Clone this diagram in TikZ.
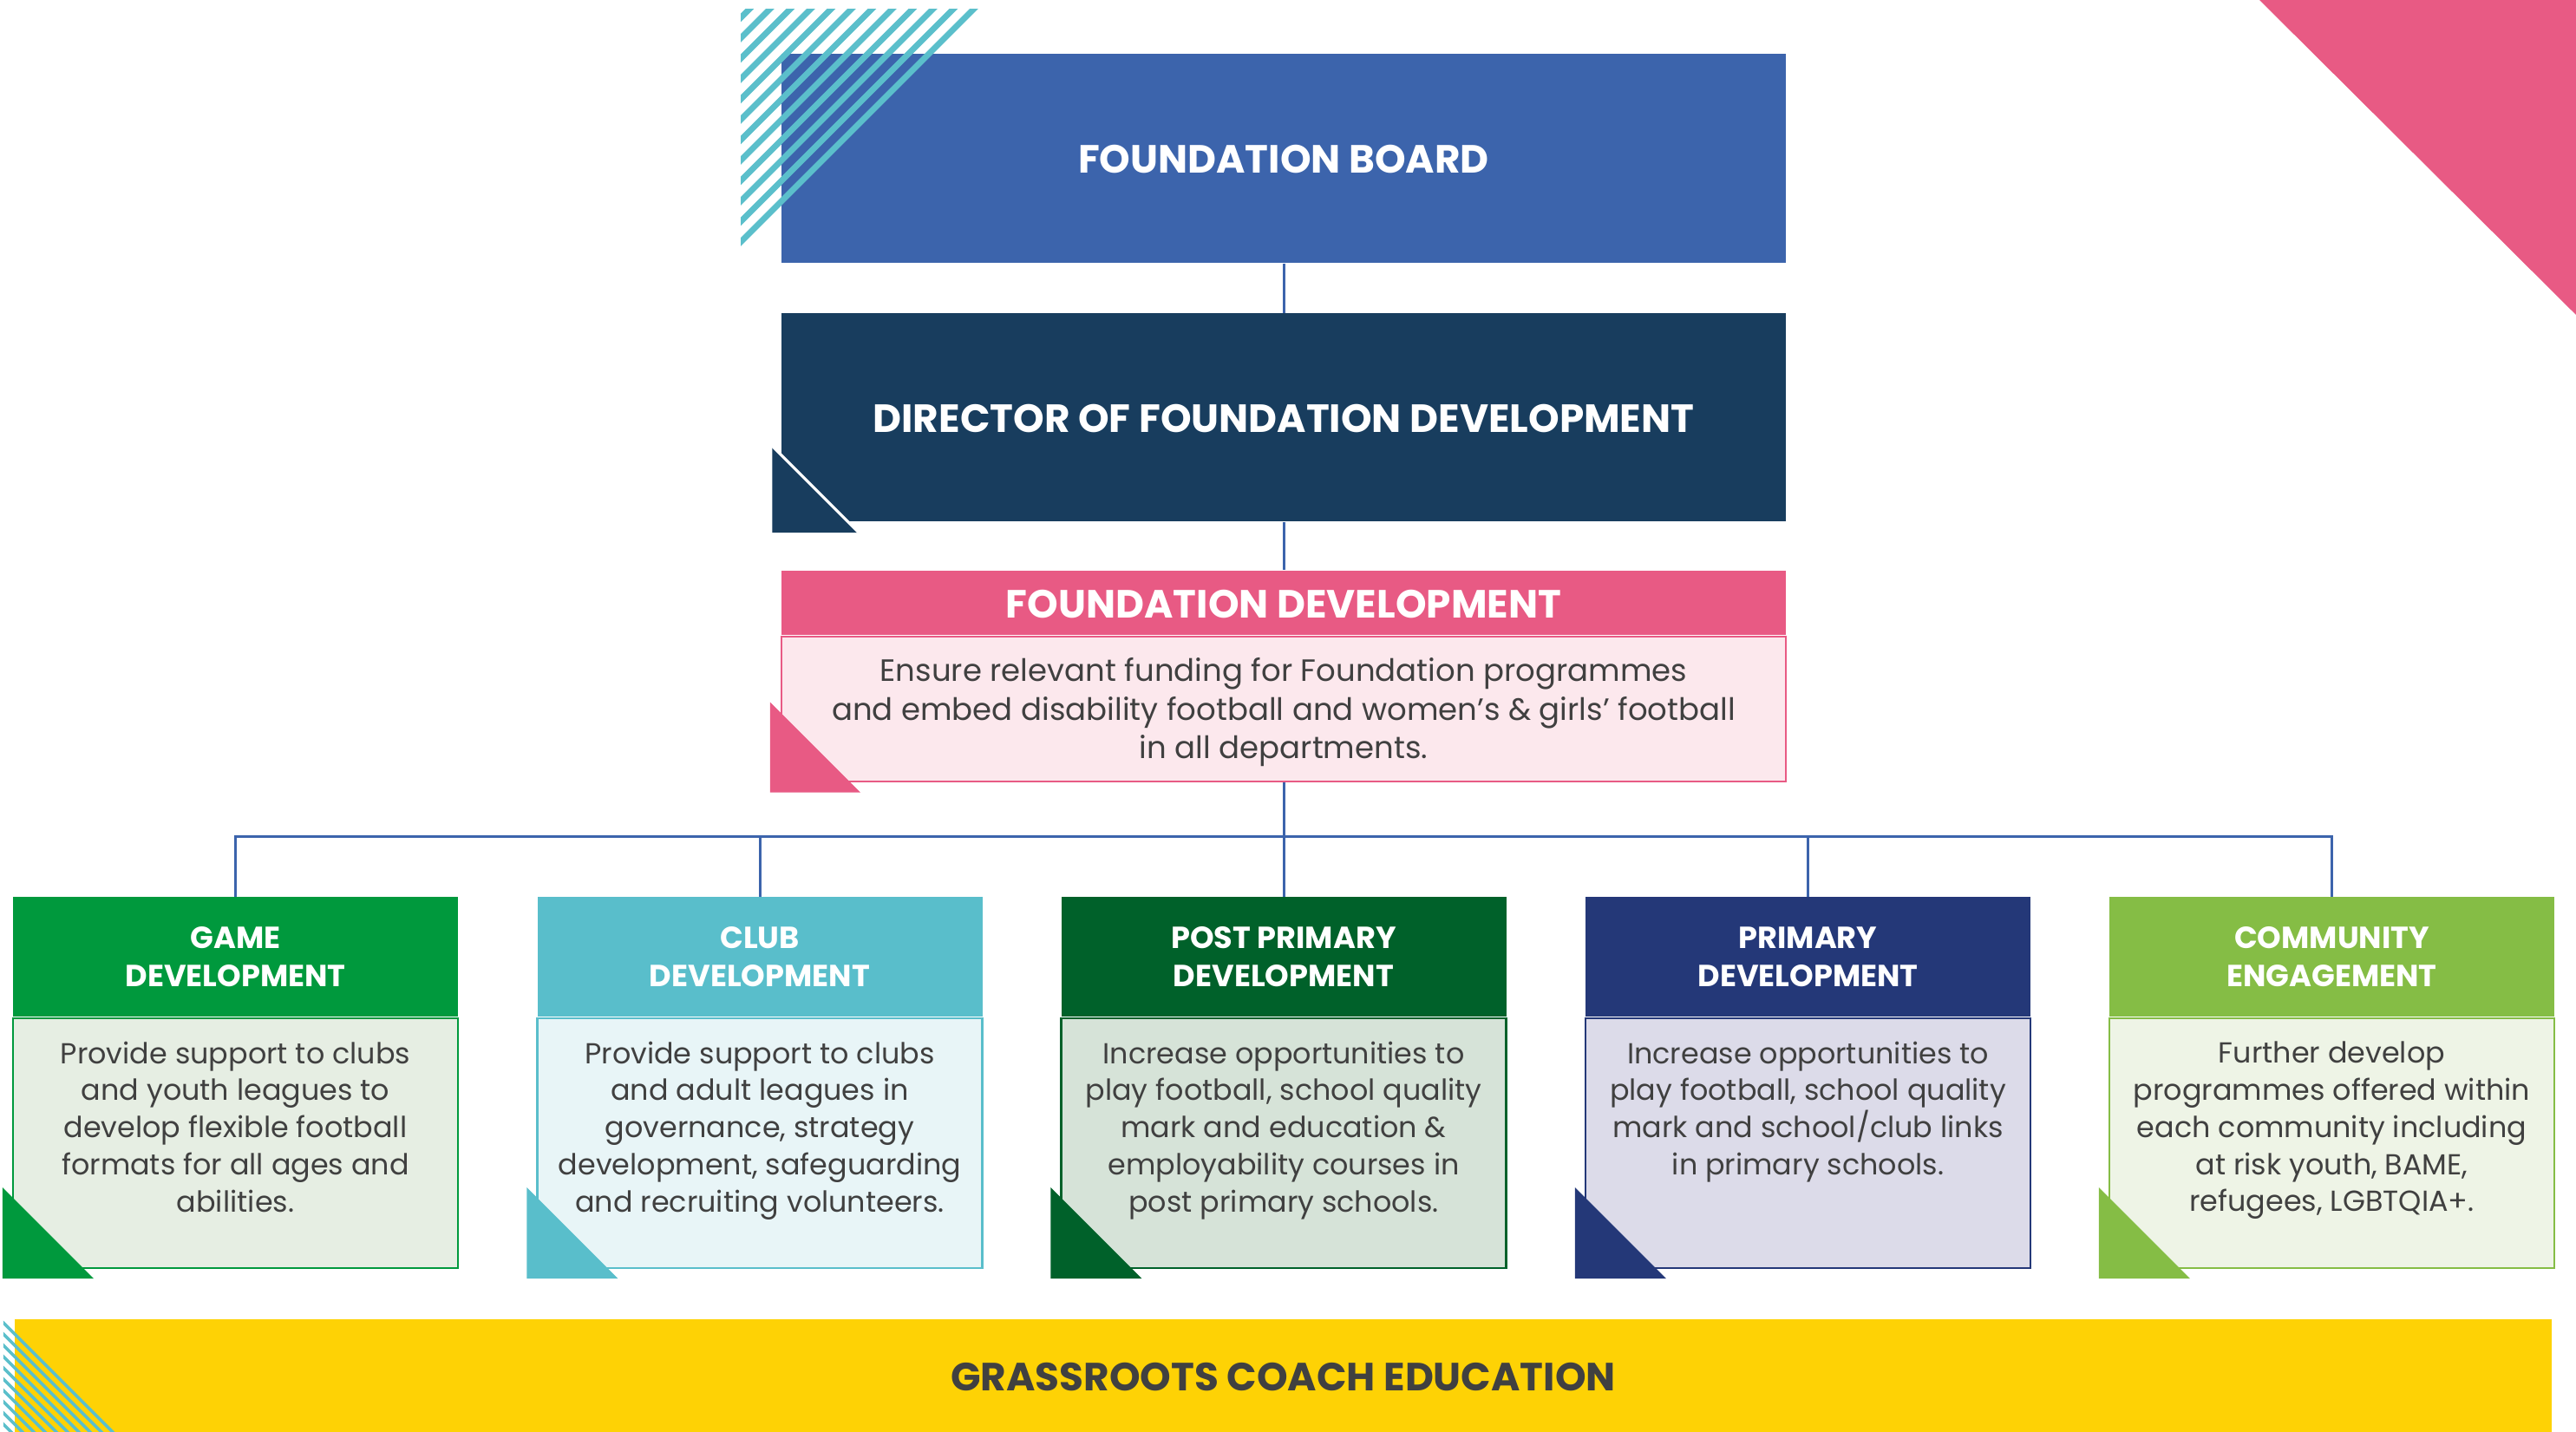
\documentclass[tikz,border=0pt]{standalone}
\usepackage{fontspec}
\setmainfont{Poppins}
\usetikzlibrary{calc,positioning}
\definecolor{board}{RGB}{60,100,172}
\definecolor{director}{RGB}{24,61,94}
\definecolor{pink}{RGB}{232,90,132}
\definecolor{pinklight}{RGB}{252,232,237}
\definecolor{aqua}{RGB}{91,191,203}
\definecolor{game}{RGB}{0,153,61}
\definecolor{gamelight}{RGB}{230,238,227}
\definecolor{club}{RGB}{89,190,203}
\definecolor{clublight}{RGB}{232,245,247}
\definecolor{post}{RGB}{0,97,42}
\definecolor{postlight}{RGB}{214,227,216}
\definecolor{primary}{RGB}{36,56,120}
\definecolor{primarylight}{RGB}{220,219,233}
\definecolor{community}{RGB}{133,189,69}
\definecolor{communitylight}{RGB}{238,244,230}
\definecolor{coachyellow}{RGB}{254,210,5}
\definecolor{ink}{RGB}{64,64,64}

\begin{document}
\begin{tikzpicture}[
  every node/.style={inner sep=0pt},
  topbox/.style={
    minimum width=11.58cm, text=white,
    font=\bfseries\fontsize{12.9}{15}\selectfont,
    execute at begin node={\rule{0pt}{10pt}}
  },
  deptbody/.style={
    draw=#1, fill=#1light, line width=0.6pt,
    minimum width=5.13cm, minimum height=2.88cm
  },
  depthead/.style={
    fill=#1, minimum width=5.13cm, minimum height=1.38cm,
    align=center, text=white, font=\bfseries\fontsize{10}{12.4}\selectfont,
    execute at begin node={\rule{0pt}{10pt}}
  },
  note/.style={align=center, text=ink, font=\fontsize{9.5}{12.2}\selectfont},
  link/.style={draw=board, line width=0.85pt},
  stripe/.style={draw=aqua, line width=#1}
]
\useasboundingbox (0,0) rectangle (29.70,-16.51);

% Corner accent.
\fill[pink] (26.05,0) -- (29.70,0) -- (29.70,-3.63) -- cycle;

% Board and director.
\node[topbox, fill=board, minimum height=2.41cm] (board) at (14.80,-1.825)
  {FOUNDATION BOARD};
\begin{scope}
  \clip (8.54,-0.10) -- (11.30,-0.10) -- (8.54,-2.86) -- cycle;
  \foreach \k in {0,...,12}
    \draw[stripe=2pt] (8.44,-2.89+0.235*\k) -- ++(3.6,3.6);
\end{scope}

\node[topbox, fill=director, minimum height=2.40cm, below=0.57cm of board]
  (director) {DIRECTOR OF FOUNDATION DEVELOPMENT};
\fill[director] ($(director.south west)+(-0.10,-0.12)$)
  -- ++(0,1.0) -- ++(1.0,-1.0) -- cycle;
\draw[white, line width=0.9pt] ($(director.south west)+(-0.10,0.88)$) -- ++(1.0,-1.0);

% Foundation development card.
\node[topbox, fill=pink, minimum height=0.74cm, below=0.55cm of director]
  (fdhead) {FOUNDATION DEVELOPMENT};
\node[note, font=\fontsize{10.1}{12.6}\selectfont, draw=pink, fill=pinklight,
  line width=0.6pt, minimum width=11.58cm, minimum height=1.67cm,
  below=0pt of fdhead] (fdbody)
  {\rule{0pt}{10pt}Ensure relevant funding for Foundation programmes\\
   and embed disability football and women’s \& girls’ football\\
   in all departments.};
\fill[pink] ($(fdbody.south west)+(-0.12,-0.12)$)
  -- ++(0,1.04) -- ++(1.04,-1.04) -- cycle;

\coordinate (bus) at (14.80,-9.64);

% Departments.
\node[deptbody=game] (gamebody) at (2.715,-13.18) {};
\node[depthead=game, above=0pt of gamebody] (gamehead) {GAME\\DEVELOPMENT};
\node[note, below=0.27cm of gamehead] (gamenote)
  {Provide support to clubs\\and youth leagues to\\develop flexible football\\
   formats for all ages and\\abilities.};
\fill[game] ($(gamebody.south west)+(-0.11,-0.11)$)
  -- ++(0,1.05) -- ++(1.05,-1.05) -- cycle;

\node[deptbody=club] (clubbody) at (8.76,-13.18) {};
\node[depthead=club, above=0pt of clubbody] (clubhead) {CLUB\\DEVELOPMENT};
\node[note, below=0.27cm of clubhead] (clubnote)
  {Provide support to clubs\\and adult leagues in\\governance, strategy\\
   development, safeguarding\\and recruiting volunteers.};
\fill[club] ($(clubbody.south west)+(-0.11,-0.11)$)
  -- ++(0,1.05) -- ++(1.05,-1.05) -- cycle;

\node[deptbody=post] (postbody) at (14.80,-13.18) {};
\node[depthead=post, above=0pt of postbody] (posthead) {POST PRIMARY\\DEVELOPMENT};
\node[note, below=0.27cm of posthead] (postnote)
  {Increase opportunities to\\play football, school quality\\mark and education \&\\
   employability courses in\\post primary schools.};
\fill[post] ($(postbody.south west)+(-0.11,-0.11)$)
  -- ++(0,1.05) -- ++(1.05,-1.05) -- cycle;

\node[deptbody=primary] (primarybody) at (20.845,-13.18) {};
\node[depthead=primary, above=0pt of primarybody] (primaryhead) {PRIMARY\\DEVELOPMENT};
\node[note, below=0.27cm of primaryhead] (primarynote)
  {Increase opportunities to\\play football, school quality\\mark and school/club links\\
   in primary schools.};
\fill[primary] ($(primarybody.south west)+(-0.11,-0.11)$)
  -- ++(0,1.05) -- ++(1.05,-1.05) -- cycle;

\node[deptbody=community] (communitybody) at (26.885,-13.18) {};
\node[depthead=community, above=0pt of communitybody] (communityhead)
  {COMMUNITY\\ENGAGEMENT};
\node[note, below=0.27cm of communityhead] (communitynote)
  {Further develop\\programmes offered within\\each community including\\
   at risk youth, BAME,\\refugees, LGBTQIA+.};
\fill[community] ($(communitybody.south west)+(-0.11,-0.11)$)
  -- ++(0,1.05) -- ++(1.05,-1.05) -- cycle;

% Reporting lines.
\draw[link] (board) -- (director);
\draw[link] (director) -- (fdhead);
\draw[link] (fdbody) -- (bus);
\foreach \d in {game,club,post,primary,community}
  \draw[link] (bus) -| (\d head);

% Coach education bar.
\node[fill=coachyellow, minimum width=29.25cm, minimum height=1.30cm, text=ink,
  font=\bfseries\fontsize{12.9}{15}\selectfont] (coach) at (14.795,-15.86)
  {\rule{0pt}{10pt}GRASSROOTS COACH EDUCATION};
\begin{scope}
  \clip (0.04,-15.22) -- (0.04,-16.51) -- (1.33,-16.51) -- cycle;
  \foreach \k in {0,...,9}
    \draw[stripe=1pt] (0,-15.21-0.13*\k) -- ++(2,-2);
\end{scope}

\end{tikzpicture}
\end{document}
